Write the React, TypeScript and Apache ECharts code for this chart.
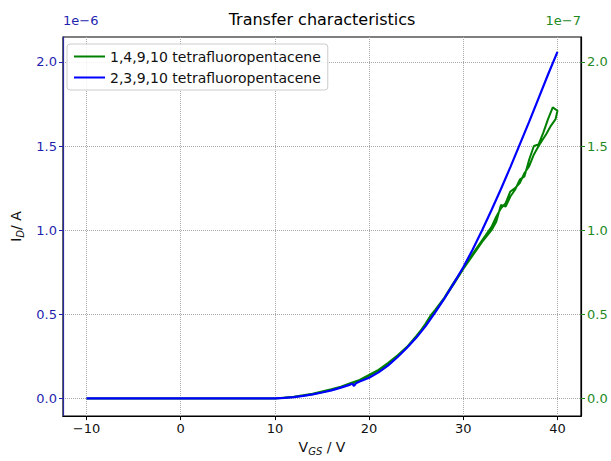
import React, { useEffect, useRef } from "react";
import * as echarts from "echarts";

const title = "Transfer characteristics";
const seriesNames = ["1,4,9,10 tetrafluoropentacene", "2,3,9,10 tetrafluoropentacene"];
const xTicks = [-10, 0, 10, 20, 30, 40];
const yTicks = [0, 0.5, 1.0, 1.5, 2.0];
const leftExponent = "1e\u22126";
const rightExponent = "1e\u22127";

// 2,3,9,10 tetrafluoropentacene — I_D in units of 1e-6 A (left axis)
const blueV = [-10, -5, 0, 5, 10, 11, 12, 13, 14, 15, 16, 17, 18, 18.2, 18.4, 18.6, 19, 20, 21, 22, 23, 24, 25, 26, 27, 28, 29, 30, 31, 32, 33, 34, 35, 36, 37, 38, 39, 40];
const blueI = [0, 0, 0, 0, 0.0, 0.003, 0.008, 0.015, 0.024, 0.035, 0.048, 0.064, 0.082, 0.088, 0.074, 0.09, 0.1, 0.123, 0.155, 0.195, 0.245, 0.3, 0.36, 0.43, 0.51, 0.595, 0.685, 0.78, 0.885, 1.0, 1.12, 1.245, 1.375, 1.51, 1.645, 1.785, 1.925, 2.06];

// 1,4,9,10 tetrafluoropentacene — I_D in units of 1e-7 A (right axis), forward then reverse sweep
const greenV = [-10, 0, 10, 12, 14, 16, 17, 18, 19, 20, 21, 22, 23, 24, 25, 26, 26.5, 27, 28, 29, 30, 31, 32, 33, 33.5, 34, 34.5, 35, 35.5, 36, 36.5, 37, 37.5, 38, 38.5, 39, 39.5, 40,
  39.8, 39.3, 38.8, 38, 37.5, 37, 36.5, 36, 35.5, 35, 34.5, 34, 33.5, 33, 32, 31, 30, 29, 28, 27, 26, 25, 24, 23, 22, 21, 20, 19, 18, 16, 14, 12, 10, 0, -10];
const greenI = [0, 0, 0, 0.01, 0.028, 0.055, 0.07, 0.09, 0.11, 0.14, 0.17, 0.21, 0.255, 0.305, 0.365, 0.445, 0.49, 0.525, 0.6, 0.69, 0.77, 0.85, 0.93, 1.0, 1.05, 1.15, 1.14, 1.2, 1.24, 1.3, 1.32, 1.42, 1.5, 1.51, 1.58, 1.66, 1.73, 1.71,
  1.66, 1.62, 1.57, 1.5, 1.45, 1.38, 1.34, 1.28, 1.25, 1.23, 1.16, 1.13, 1.08, 1.02, 0.94, 0.86, 0.77, 0.68, 0.595, 0.515, 0.44, 0.37, 0.305, 0.25, 0.2, 0.165, 0.135, 0.105, 0.085, 0.05, 0.025, 0.008, 0, 0, 0];

const FONT = "DejaVu Sans";
const BLUE = "#0000ff";
const GREEN = "#008000";
const BLUE_TXT = "#1f1fb0";
const GREEN_TXT = "#1f8a1f";

export default function App() {
  const ref = useRef<HTMLDivElement>(null);
  useEffect(() => {
    if (!ref.current) return;
    const chart = echarts.init(ref.current, undefined, { renderer: "svg" });
    const blueData = blueV.map((v, i) => [v, blueI[i]]);
    const greenData = greenV.map((v, i) => [v, greenI[i]]);
    const yAxisBase = {
      type: "value",
      min: -0.105,
      max: 2.148,
    };
    chart.setOption({
      animation: false,
      backgroundColor: "#ffffff",
      grid: { left: 63, right: 30, top: 37, bottom: 39, show: true, borderColor: "#000", borderWidth: 1.2, backgroundColor: "transparent" },
      graphic: [
        { type: "text", x: 322, y: 19, style: { text: title, font: `16px '${FONT}'`, fill: "#000", textAlign: "center", textVerticalAlign: "middle" } },
        { type: "text", x: 63, y: 20, style: { text: leftExponent, font: `13px '${FONT}'`, fill: BLUE_TXT, textAlign: "left", textVerticalAlign: "middle" } },
        { type: "text", x: 581, y: 20, style: { text: rightExponent, font: `13px '${FONT}'`, fill: GREEN_TXT, textAlign: "right", textVerticalAlign: "middle" } },
      ],
      legend: {
        left: 67,
        top: 44,
        orient: "vertical",
        backgroundColor: "rgba(255,255,255,0.85)",
        borderColor: "#cccccc",
        borderWidth: 1,
        borderRadius: 3,
        padding: [4, 7, 4, 7],
        itemGap: 4,
        itemWidth: 31,
        itemHeight: 2,
        data: [
          { name: seriesNames[0], icon: "rect" },
          { name: seriesNames[1], icon: "rect" },
        ],
        textStyle: { fontFamily: FONT, fontSize: 14, color: "#111", lineHeight: 17 },
      },
      xAxis: {
        type: "value",
        min: -12.5,
        max: 42.5,
        axisLine: { show: true, onZero: false, lineStyle: { color: "#000", width: 1.2 } },
        axisTick: { show: true, inside: false, length: 4, customValues: xTicks, lineStyle: { color: "#000" } },
        axisLabel: { customValues: xTicks, fontFamily: FONT, fontSize: 13, color: "#111", margin: 6, formatter: (v: number) => String(v).replace("-", "\u2212") },
        splitLine: { show: true, lineStyle: { type: "dotted", color: "#aaaaaa", width: 1 } },
        name: "{n|V}{s|GS}{n| / V}",
        nameLocation: "middle",
        nameGap: 17,
        nameTextStyle: {
          rich: {
            n: { fontFamily: FONT, fontSize: 14, color: "#111", lineHeight: 18, verticalAlign: "middle" },
            s: { fontFamily: FONT, fontSize: 10, fontStyle: "italic", color: "#111", lineHeight: 9, verticalAlign: "bottom" },
          },
        },
      },
      yAxis: [
        {
          ...yAxisBase,
          position: "left",
          axisLine: { show: true, onZero: false, lineStyle: { color: "#2a2aa0", width: 1.2 } },
          axisTick: { show: true, inside: false, length: 4, customValues: yTicks, lineStyle: { color: BLUE_TXT } },
          axisLabel: { customValues: yTicks, fontFamily: FONT, fontSize: 13, color: BLUE_TXT, margin: 6, formatter: (v: number) => v.toFixed(1) },
          splitLine: { show: true, lineStyle: { type: "dotted", color: "#aaaaaa", width: 1 } },
          name: "{n|I}{s|D}{n|/ A}",
          nameLocation: "middle",
          nameRotate: 90,
          nameGap: 36,
          nameTextStyle: {
            rich: {
              n: { fontFamily: FONT, fontSize: 14, color: "#111", lineHeight: 18, verticalAlign: "middle" },
              s: { fontFamily: FONT, fontSize: 10, fontStyle: "italic", color: "#111", lineHeight: 9, verticalAlign: "bottom" },
            },
          },
        },
        {
          ...yAxisBase,
          position: "right",
          axisLine: { show: true, onZero: false, lineStyle: { color: "#000", width: 1.2 } },
          axisTick: { show: true, inside: false, length: 4, customValues: yTicks, lineStyle: { color: GREEN_TXT } },
          axisLabel: { customValues: yTicks, fontFamily: FONT, fontSize: 13, color: GREEN_TXT, margin: 6, formatter: (v: number) => v.toFixed(1) },
          splitLine: { show: false },
        },
      ],
      series: [
        {
          name: seriesNames[0],
          type: "line",
          yAxisIndex: 1,
          data: greenData,
          showSymbol: false,
          symbol: "none",
          lineStyle: { color: GREEN, width: 2 },
          itemStyle: { color: GREEN },
          z: 2,
        },
        {
          name: seriesNames[1],
          type: "line",
          yAxisIndex: 0,
          data: blueData,
          showSymbol: false,
          symbol: "none",
          lineStyle: { color: BLUE, width: 2.2 },
          itemStyle: { color: BLUE },
          z: 3,
        },
      ],
    });
    return () => chart.dispose();
  }, []);
  return <div ref={ref} style={{ position: "fixed", left: 0, top: 0, width: 611, height: 461 }} />;
}
